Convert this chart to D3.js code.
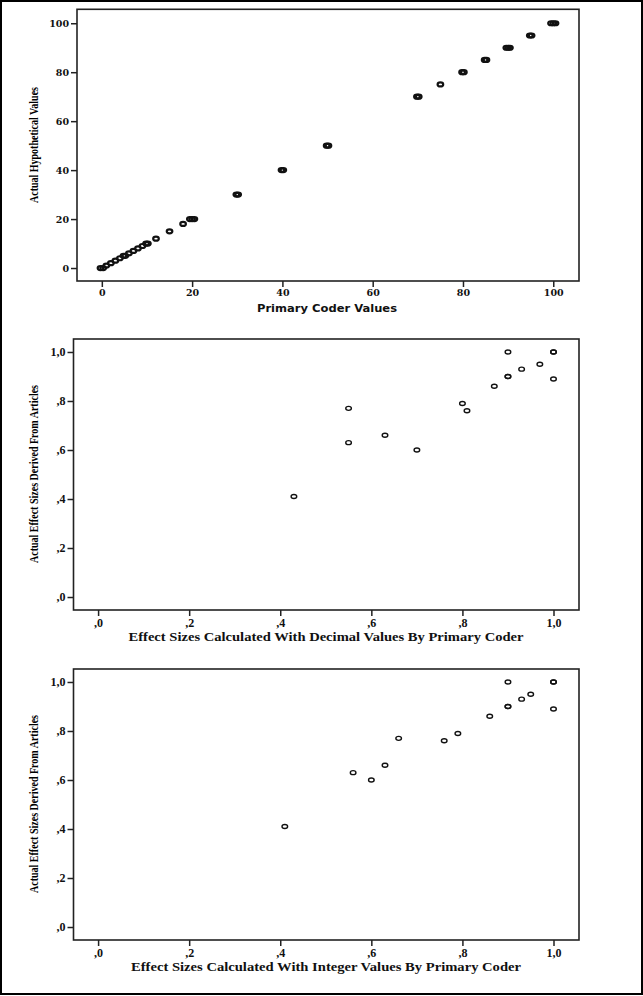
<!DOCTYPE html>
<html>
<head>
<meta charset="utf-8">
<script src="https://cdn.jsdelivr.net/npm/d3@7"></script>
<style>
  body { margin: 0; background: #fff; }
  svg { display: block; }
</style>
</head>
<body>
<div id="chart"></div>
<script>
// top panel: primary coder vs actual hypothetical values
var topX = [-0.3, 0.3, 1, 2, 3, 4, 4.8, 5.2, 6, 7, 8, 9, 9.8, 10.2, 12, 15, 18, 19.5, 20, 20.5,
            29.8, 30.2, 39.8, 40.2, 49.8, 50.2, 69.8, 70.2, 75, 79.8, 80.2, 84.8, 85.2,
            89.6, 90, 90.4, 94.8, 95.2, 99.5, 100, 100.5];
var topY = [0, 0, 1, 2, 3, 4, 5, 5, 6, 7, 8, 9, 10, 10, 12, 15, 18, 20, 20, 20,
            30, 30, 40, 40, 50, 50, 70, 70, 75, 80, 80, 85, 85,
            90, 90, 90, 95, 95, 100, 100, 100];
var topTicks = [0, 20, 40, 60, 80, 100];

// middle panel: decimal values
var decX = [0.43, 0.55, 0.55, 0.63, 0.70, 0.80, 0.81, 0.87, 0.90, 0.90, 0.90, 0.93, 0.97, 1.00, 1.00, 1.00];
var decY = [0.41, 0.77, 0.63, 0.66, 0.60, 0.79, 0.76, 0.86, 1.00, 0.90, 0.90, 0.93, 0.95, 1.00, 1.00, 0.89];

// bottom panel: integer values
var intX = [0.41, 0.56, 0.60, 0.63, 0.66, 0.76, 0.79, 0.86, 0.90, 0.90, 0.90, 0.93, 0.95, 1.00, 1.00, 1.00];
var intY = [0.41, 0.63, 0.60, 0.66, 0.77, 0.76, 0.79, 0.86, 1.00, 0.90, 0.90, 0.93, 0.95, 1.00, 1.00, 0.89];

var effTicks = [0, 0.2, 0.4, 0.6, 0.8, 1.0];
var effLabels = [",0", ",2", ",4", ",6", ",8", "1,0"];

var W = 643, H = 996;
var svg = d3.select("#chart").append("svg")
    .attr("width", W)
    .attr("height", H);

// outer border
svg.append("rect")
    .attr("x", 1).attr("y", 1)
    .attr("width", W - 2).attr("height", H - 3)
    .attr("fill", "none")
    .attr("stroke", "#000")
    .attr("stroke-width", 2);

function panel(opt) {
    var x = d3.scaleLinear().domain(opt.xDom).range([opt.left, opt.right]);
    var y = d3.scaleLinear().domain(opt.yDom).range([opt.bottom, opt.top]);
    var g = svg.append("g");

    var fmt = function(d) { return opt.labels ? opt.labels[opt.ticks.indexOf(d)] : d; };

    var ya = g.append("g")
        .attr("transform", "translate(" + opt.left + ",0)")
        .call(d3.axisLeft(y).tickValues(opt.ticks).tickSize(6).tickPadding(2).tickFormat(fmt));
    var xa = g.append("g")
        .attr("transform", "translate(0," + opt.bottom + ")")
        .call(d3.axisBottom(x).tickValues(opt.ticks).tickSize(6).tickPadding(2).tickFormat(fmt));

    [ya, xa].forEach(function(a) {
        a.select(".domain").remove();
        a.selectAll("line").attr("stroke", "#222").attr("stroke-width", 1.5);
        a.selectAll("text")
            .attr("fill", "#111")
            .style("font-family", opt.tickFont)
            .style("font-weight", "bold")
            .style("font-size", opt.tickSize + "px");
    });
    xa.selectAll("text").attr("dy", "0.75em");

    // frame
    g.append("rect")
        .attr("x", opt.left).attr("y", opt.top)
        .attr("width", opt.right - opt.left)
        .attr("height", opt.bottom - opt.top)
        .attr("fill", "none")
        .attr("stroke", "#222")
        .attr("stroke-width", 1.6);

    // points
    g.append("g").selectAll("ellipse")
        .data(opt.xs.map(function(v, i) { return [v, opt.ys[i]]; }))
        .enter()
        .append("ellipse")
        .attr("cx", function(d) { return x(d[0]); })
        .attr("cy", function(d) { return y(d[1]); })
        .attr("rx", opt.rx)
        .attr("ry", opt.ry)
        .attr("fill", "none")
        .attr("stroke", "#111")
        .attr("stroke-width", opt.sw);

    // x title
    g.append("text")
        .attr("x", opt.xTitleX)
        .attr("y", opt.bottom + opt.xTitleDy)
        .attr("text-anchor", "middle")
        .attr("textLength", opt.xTitleLen)
        .attr("lengthAdjust", "spacingAndGlyphs")
        .style("font-family", opt.xTitleFont)
        .style("font-weight", "bold")
        .style("font-size", opt.xTitleSize + "px")
        .attr("fill", "#111")
        .text(opt.xTitle);

    // y title
    g.append("text")
        .attr("transform", "translate(37.5," + opt.yTitleY + ") rotate(-90)")
        .attr("text-anchor", "middle")
        .attr("textLength", opt.yTitleLen)
        .attr("lengthAdjust", "spacingAndGlyphs")
        .style("font-family", "'Liberation Serif', serif")
        .style("font-weight", "bold")
        .style("font-size", "12.5px")
        .attr("fill", "#000")
        .text(opt.yTitle);
}

panel({
    xs: topX, ys: topY, ticks: topTicks,
    xDom: [-5.5, 105.7], yDom: [-5.3, 105.7],
    left: 77, right: 579, top: 9.3, bottom: 281,
    tickFont: "'DejaVu Serif', serif", tickSize: 9.5,
    rx: 2.8, ry: 2.0, sw: 2.2,
    xTitle: "Primary Coder Values", xTitleFont: "'DejaVu Sans', sans-serif",
    xTitleSize: 11, xTitleX: 327, xTitleDy: 31, xTitleLen: 140,
    yTitle: "Actual Hypothetical Values", yTitleY: 145, yTitleLen: 116
});

panel({
    xs: decX, ys: decY, ticks: effTicks, labels: effLabels,
    xDom: [-0.054, 1.056], yDom: [-0.053, 1.053],
    left: 73.5, right: 579, top: 339, bottom: 610,
    tickFont: "'Liberation Serif', serif", tickSize: 12,
    rx: 2.8, ry: 2.0, sw: 1.4,
    xTitle: "Effect Sizes Calculated With Decimal Values By Primary Coder",
    xTitleFont: "'Liberation Serif', serif",
    xTitleSize: 12.5, xTitleX: 326, xTitleDy: 30.5, xTitleLen: 395,
    yTitle: "Actual Effect Sizes Derived From Articles", yTitleY: 474, yTitleLen: 178
});

panel({
    xs: intX, ys: intY, ticks: effTicks, labels: effLabels,
    xDom: [-0.054, 1.056], yDom: [-0.053, 1.053],
    left: 73.5, right: 579, top: 669, bottom: 940,
    tickFont: "'Liberation Serif', serif", tickSize: 12,
    rx: 2.8, ry: 2.0, sw: 1.4,
    xTitle: "Effect Sizes Calculated With Integer Values By Primary Coder",
    xTitleFont: "'Liberation Serif', serif",
    xTitleSize: 12.5, xTitleX: 326, xTitleDy: 30.5, xTitleLen: 390,
    yTitle: "Actual Effect Sizes Derived From Articles", yTitleY: 804, yTitleLen: 178
});
</script>
</body>
</html>
